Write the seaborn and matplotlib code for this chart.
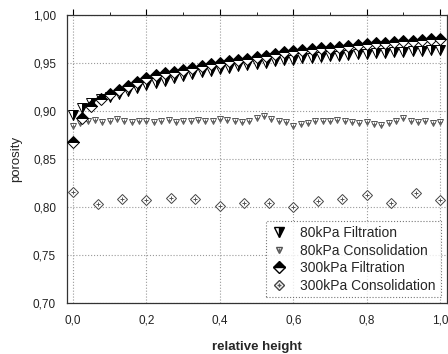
import numpy as np
import matplotlib
matplotlib.use("Agg")
import matplotlib.pyplot as plt
import seaborn as sns
from matplotlib.lines import Line2D
from matplotlib.ticker import MultipleLocator, FuncFormatter

# data
x_filt = np.linspace(0, 1, 41)
filt_80 = [0.896, 0.903, 0.908, 0.912, 0.915, 0.918, 0.921, 0.924, 0.927, 0.929,
           0.931, 0.934, 0.936, 0.938, 0.940, 0.942, 0.944, 0.945, 0.947, 0.948,
           0.949, 0.950, 0.952, 0.953, 0.953, 0.955, 0.955, 0.956, 0.957, 0.957,
           0.958, 0.959, 0.959, 0.960, 0.960, 0.961, 0.961, 0.962, 0.962, 0.963,
           0.963]
filt_300 = [0.868, 0.893, 0.905, 0.912, 0.918, 0.922, 0.926, 0.930, 0.934, 0.937,
            0.939, 0.941, 0.943, 0.945, 0.947, 0.949, 0.950, 0.952, 0.953, 0.954,
            0.956, 0.957, 0.959, 0.961, 0.962, 0.963, 0.964, 0.965, 0.966, 0.967,
            0.968, 0.969, 0.970, 0.971, 0.971, 0.972, 0.973, 0.973, 0.974, 0.975,
            0.975]

x_cons80 = np.linspace(0, 1, 51)
cons_80 = [0.884, 0.887, 0.889, 0.891, 0.888, 0.889, 0.892, 0.890, 0.888, 0.889,
           0.890, 0.888, 0.889, 0.891, 0.888, 0.890, 0.889, 0.891, 0.890, 0.889,
           0.892, 0.891, 0.889, 0.888, 0.890, 0.893, 0.895, 0.892, 0.889, 0.888,
           0.884, 0.886, 0.887, 0.889, 0.890, 0.889, 0.891, 0.889, 0.888, 0.887,
           0.888, 0.886, 0.885, 0.887, 0.889, 0.893, 0.890, 0.888, 0.889, 0.887,
           0.888]

x_cons300 = np.linspace(0, 1, 16)
cons_300 = [0.816, 0.803, 0.808, 0.807, 0.809, 0.808, 0.801, 0.804, 0.804, 0.800,
            0.806, 0.808, 0.812, 0.804, 0.815, 0.807]

labels = ["80kPa Filtration", "80kPa Consolidation",
          "300kPa Filtration", "300kPa Consolidation"]

sns.set_theme(style="white")
plt.rcParams['font.family'] = ['Liberation Sans', 'DejaVu Sans']

fig = plt.figure(figsize=(4.48, 3.54), dpi=100)
ax = fig.add_axes([0.150, 0.144, 0.848, 0.814])

k = dict(color="black", linestyle="", markeredgewidth=0.7, zorder=3)

# 300kPa consolidation: open diamond with a small cross
sns.lineplot(x=x_cons300, y=cons_300, marker="D", markersize=5.5,
             markerfacecolor="white", markeredgecolor="#444444", ax=ax, **k)
sns.lineplot(x=x_cons300, y=cons_300, marker="+", markersize=3.5,
             markeredgecolor="#555555", ax=ax, **k)

# 80kPa consolidation: open down triangle with a cross
sns.lineplot(x=x_cons80, y=cons_80, marker="v", markersize=5,
             markerfacecolor="white", markeredgecolor="#555555", ax=ax, **k)
sns.lineplot(x=x_cons80, y=cons_80, marker="+", markersize=3,
             markeredgecolor="#666666", ax=ax, **k)

# filtration series
sns.lineplot(x=x_filt, y=filt_80, marker="v", markersize=6.5, fillstyle="right",
             markerfacecolor="black", markerfacecoloralt="white",
             markeredgecolor="black", ax=ax, **k)
sns.lineplot(x=x_filt, y=filt_300, marker="D", markersize=6.2, fillstyle="top",
             markerfacecolor="black", markerfacecoloralt="white",
             markeredgecolor="black", ax=ax, **k)

ax.set_xlim(-0.016, 1.019)
ax.set_ylim(0.70, 1.00)
ax.xaxis.set_major_locator(MultipleLocator(0.2))
ax.xaxis.set_minor_locator(MultipleLocator(0.1))
ax.yaxis.set_major_locator(MultipleLocator(0.05))
ax.yaxis.set_minor_locator(MultipleLocator(0.025))
ax.xaxis.set_major_formatter(FuncFormatter(lambda v, p: f"{v:.1f}".replace(".", ",")))
ax.yaxis.set_major_formatter(FuncFormatter(lambda v, p: f"{v:.2f}".replace(".", ",")))

ax.grid(True, which="major", linestyle=":", color="#9a9a9a", linewidth=0.8)
ax.tick_params(which="both", direction="out", colors="black", labelsize=8.5,
               top=True, right=True, labelcolor="#222222")
ax.tick_params(which="major", length=4, width=0.8, pad=4)
ax.tick_params(which="minor", length=2.5, width=0.6)
for s in ax.spines.values():
    s.set_color("#333333")
    s.set_linewidth(0.9)

ax.set_xlabel("relative height", fontsize=9.5, fontweight="bold", labelpad=11)
ax.set_ylabel("porosity", fontsize=9.5, labelpad=8)

h_f80 = Line2D([], [], marker="v", markersize=6.5, fillstyle="right", color="black",
               markerfacecolor="black", markerfacecoloralt="white", linestyle="")
h_c80 = (Line2D([], [], marker="v", markersize=5, markerfacecolor="white",
                markeredgecolor="#555555", linestyle=""),
         Line2D([], [], marker="+", markersize=3, markeredgecolor="#666666", linestyle=""))
h_f300 = Line2D([], [], marker="D", markersize=6.2, fillstyle="top", color="black",
                markerfacecolor="black", markerfacecoloralt="white", linestyle="")
h_c300 = (Line2D([], [], marker="D", markersize=5.5, markerfacecolor="white",
                 markeredgecolor="#444444", linestyle=""),
          Line2D([], [], marker="+", markersize=3.5, markeredgecolor="#555555", linestyle=""))

leg = ax.legend([h_f80, h_c80, h_f300, h_c300], labels, loc="lower right",
                fontsize=10, frameon=True, fancybox=False, handlelength=1.2,
                handletextpad=0.9, borderpad=0.35, labelspacing=0.25,
                borderaxespad=0.2, bbox_to_anchor=(0.99, 0.01))
leg.get_frame().set_edgecolor("#555555")
leg.get_frame().set_linestyle(":")
leg.get_frame().set_linewidth(0.8)

fig.savefig("out.png", dpi=100)
